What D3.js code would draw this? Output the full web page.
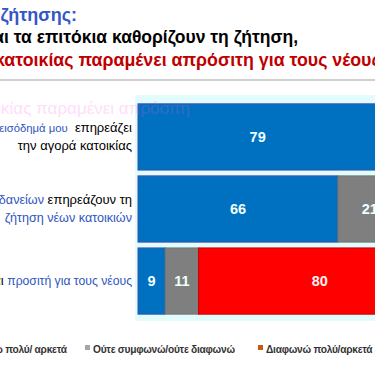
<!DOCTYPE html>
<html lang="el">
<head>
<meta charset="UTF-8">
<title>Ζήτηση κατοικίας</title>
<script src="https://d3js.org/d3.v7.min.js"></script>
<style>
    body { margin: 0; padding: 0; background: #fff; overflow: hidden; }
    svg { display: block; font-family: 'Liberation Sans', Arial, sans-serif; }
</style>
</head>
<body>
<div id="chart"></div>
<script>
    // Data
    const categories = ['income', 'rates', 'affordable'];
    const agree = [79, 66, 9];
    const neutral = [11, 21, 11];
    const disagree = [10, 13, 80];
    const seriesNames = ['Συμφωνώ πολύ/ αρκετά', 'Ούτε συμφωνώ/ούτε διαφωνώ', 'Διαφωνώ πολύ/αρκετά'];

    // category labels: each line is a list of [text, style key]
    const labelLines = [
        [[['Το ', 'k'], ['εισόδημά μου', 'b1'], ['\u00a0\u00a0επηρεάζει', 'k']], [['την αγορά κατοικίας', 'k']]],
        [[['Τα επιτόκια των ', 'k'], ['δανείων', 'b'], [' επηρεάζουν τη', 'k']], [['ζήτηση νέων κατοικιών', 'b']]],
        [[['Η κατοικία είναι ', 'k'], ['προσιτή για τους νέους', 'B']]]
    ];

    const W = 375, H = 366;
    const blue = '#0070c0', grey = '#7f7f7f', red = '#ff0000';
    const txtCol = { k: '#000', b1: '#2f55c0', b: '#2f55c0', B: '#2f55c0' };
    const txtSize = { k: 13, b1: 11.3, b: 12.6, B: 12.2 };

    const svg = d3.select('#chart').append('svg')
        .attr('width', W).attr('height', H);

    // title block (cropped on the left and right)
    svg.append('text').attr('x', 77).attr('y', 21).attr('text-anchor', 'end')
        .attr('font-size', 18).attr('font-weight', 'bold').attr('fill', '#3456c6')
        .text('της ζήτησης:');
    svg.append('text').attr('x', 298).attr('y', 43).attr('text-anchor', 'end')
        .attr('font-size', 17.5).attr('font-weight', 'bold').attr('fill', '#000')
        .text('και τα επιτόκια καθορίζουν τη ζήτηση,');
    svg.append('text').attr('x', -5).attr('y', 66)
        .attr('font-size', 17.8).attr('font-weight', 'bold').attr('fill', '#c00000')
        .text('κατοικίας παραμένει απρόσιτη για τους νέους');

    svg.append('line').attr('x1', 0).attr('x2', W).attr('y1', 80).attr('y2', 80)
        .attr('stroke', '#cfcfcf').attr('stroke-width', 2);

    // scales
    const x = d3.scaleLinear().domain([0, 100]).range([138, 441]);
    const y = d3.scaleBand().domain(categories).range([98, 320]).padding(0.081);

    // light panel behind bars
    svg.append('rect').attr('x', 135).attr('y', 95).attr('width', W - 135).attr('height', 226)
        .attr('fill', '#e2fbfd');

    // stacked bars
    const stack = categories.map((c, i) => {
        const vals = [agree[i], neutral[i], disagree[i]];
        let acc = 0;
        return vals.map((v, k) => {
            const d = { cat: c, k: k, v: v, x0: acc, x1: acc + v };
            acc += v;
            return d;
        });
    }).flat();

    const fills = [blue, grey, red];
    const strokes = ['#3d50a8', '#6e7a72', '#c00000'];

    svg.selectAll('rect.seg').data(stack).enter().append('rect')
        .attr('class', 'seg')
        .attr('x', d => x(d.x0))
        .attr('y', d => y(d.cat))
        .attr('width', d => x(d.x1) - x(d.x0))
        .attr('height', y.bandwidth())
        .attr('fill', d => fills[d.k])
        .attr('stroke', d => strokes[d.k])
        .attr('stroke-width', 1);

    svg.selectAll('text.val').data(stack).enter().append('text')
        .attr('class', 'val')
        .attr('x', d => (x(d.x0) + x(d.x1)) / 2)
        .attr('y', d => y(d.cat) + y.bandwidth() / 2 + 5)
        .attr('text-anchor', 'middle')
        .attr('font-size', 14.5).attr('font-weight', 'bold')
        .attr('fill', d => d.k === 2 ? '#fff2f2' : '#f0ffff')
        .text(d => d.v);

    // faint ghost of the slide transition
    svg.append('text').attr('x', 190).attr('y', 114).attr('text-anchor', 'end')
        .attr('font-size', 17).attr('fill', '#ff55ee').attr('opacity', 0.2)
        .text('Η αγορά κατοικίας παραμένει απρόσιτη');

    // category labels, right aligned next to the bars
    labelLines.forEach((lines, i) => {
        const n = lines.length;
        const cy = y(categories[i]) + y.bandwidth() / 2;
        const startY = n === 2 ? cy - 5 : cy + 4;
        lines.forEach((parts, j) => {
            const t = svg.append('text')
                .attr('x', 132).attr('y', startY + j * 18)
                .attr('text-anchor', 'end');
            parts.forEach(p => t.append('tspan')
                .attr('fill', txtCol[p[1]]).attr('font-size', txtSize[p[1]]).text(p[0]));
        });
    });

    // legend (first item cropped)
    const legX = [-52, 85, 258];
    const leg = svg.selectAll('g.leg').data(seriesNames).enter().append('g')
        .attr('class', 'leg')
        .attr('transform', (d, i) => `translate(${legX[i]},349)`);
    leg.append('rect').attr('x', 0).attr('y', -4).attr('width', 5).attr('height', 5)
        .attr('fill', (d, i) => ['#0070c0', '#a6a6a6', '#c55a11'][i]);
    leg.append('text').attr('x', 8).attr('y', 4)
        .attr('font-size', 10.2).attr('font-weight', 'bold').attr('fill', '#333')
        .attr('letter-spacing', -0.25)
        .text(d => d);
</script>
</body>
</html>
